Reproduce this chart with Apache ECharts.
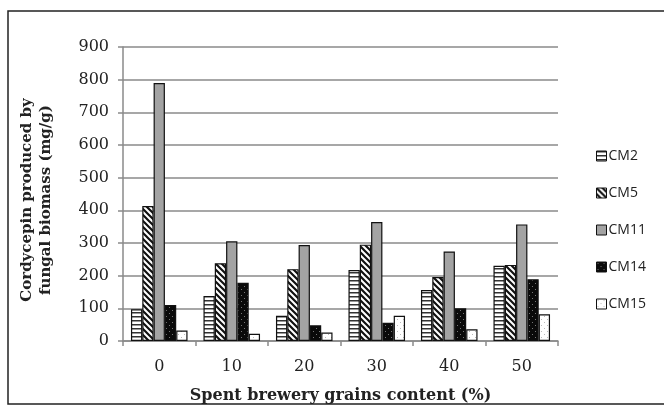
<!DOCTYPE html>
<html>
<head>
<meta charset="utf-8">
<script src="https://cdn.jsdelivr.net/npm/echarts@6/dist/echarts.min.js"></script>
<style>
  html, body { margin: 0; padding: 0; background: #fff; }
  #main { width: 664px; height: 408px; }
</style>
</head>
<body>
<div id="main"></div>
<script>
var categories = ["0", "10", "20", "30", "40", "50"];
var seriesNames = ["CM2", "CM5", "CM11", "CM14", "CM15"];
var cm2 = [97, 138, 77, 217, 156, 230];
var cm5 = [413, 238, 220, 295, 196, 233];
var cm11 = [790, 305, 294, 364, 274, 357];
var cm14 = [110, 178, 48, 56, 100, 189];
var cm15 = [32, 22, 26, 77, 36, 82];
var yTicks = [0, 100, 200, 300, 400, 500, 600, 700, 800, 900];

// 填充图案
function makePattern(type) {
  var c = document.createElement("canvas");
  var ctx = c.getContext("2d");
  if (type === "hline") {
    c.width = 4; c.height = 4;
    ctx.fillStyle = "#fff"; ctx.fillRect(0, 0, 4, 4);
    ctx.fillStyle = "#333"; ctx.fillRect(0, 0, 4, 1.5);
  } else if (type === "diag") {
    c.width = 6; c.height = 6;
    ctx.fillStyle = "#fff"; ctx.fillRect(0, 0, 6, 6);
    ctx.strokeStyle = "#111"; ctx.lineWidth = 2.2;
    ctx.beginPath();
    ctx.moveTo(-1, -1); ctx.lineTo(7, 7);
    ctx.moveTo(-4, 2); ctx.lineTo(2, 8);
    ctx.moveTo(2, -4); ctx.lineTo(8, 2);
    ctx.stroke();
  } else if (type === "darkdot") {
    c.width = 6; c.height = 6;
    ctx.fillStyle = "#0a0a0a"; ctx.fillRect(0, 0, 6, 6);
    ctx.fillStyle = "#777"; ctx.fillRect(1, 1, 1, 1); ctx.fillRect(4, 4, 1, 1);
  } else {
    c.width = 6; c.height = 6;
    ctx.fillStyle = "#fff"; ctx.fillRect(0, 0, 6, 6);
    ctx.fillStyle = "#bbb"; ctx.fillRect(1, 1, 1, 1); ctx.fillRect(4, 4, 1, 1);
  }
  return { image: c, repeat: "repeat" };
}

var fills = [makePattern("hline"), makePattern("diag"), "#a3a3a3", makePattern("darkdot"), makePattern("lightdot")];
var dataList = [cm2, cm5, cm11, cm14, cm15];

var myChart = echarts.init(document.getElementById("main"));
var series = seriesNames.map(function (name, i) {
  return {
    name: name,
    type: "bar",
    barGap: "0%",
    barCategoryGap: "22%",
    data: dataList[i],
    itemStyle: {
      color: fills[i],
      borderColor: "#111",
      borderWidth: 1.2
    }
  };
});

var option = {
  animation: false,
  grid: { left: 123, right: 106, top: 47, bottom: 67, outerBoundsMode: "none" },
  legend: {
    orient: "vertical",
    left: 591,
    top: 144,
    itemWidth: 10,
    itemHeight: 10,
    itemGap: 23,
    icon: "rect",
    itemStyle: { borderColor: "#111", borderWidth: 1 },
    textStyle: { fontFamily: "Open Sans", fontSize: 14, color: "#222", padding: [0, 0, 0, -3] },
    data: seriesNames
  },
  xAxis: {
    type: "category",
    data: categories,
    name: "Spent brewery grains content (%)",
    nameLocation: "middle",
    nameGap: 47,
    nameTextStyle: { fontFamily: "DejaVu Serif", fontWeight: "bold", fontSize: 16, color: "#222" },
    axisLine: { lineStyle: { color: "#8a8a8a", width: 1.5 } },
    axisTick: { show: true, length: 5, lineStyle: { color: "#8a8a8a", width: 1.5 } },
    axisLabel: { fontFamily: "DejaVu Serif", fontSize: 16, color: "#222", margin: 18 }
  },
  yAxis: {
    type: "value",
    min: yTicks[0],
    max: yTicks[yTicks.length - 1],
    interval: 100,
    name: "Cordycepin produced by\nfungal biomass (mg/g)",
    nameLocation: "middle",
    nameGap: 67,
    nameTextStyle: { fontFamily: "DejaVu Serif", fontWeight: "bold", fontSize: 15, color: "#222", lineHeight: 19, padding: [0, 12, 0, 0] },
    axisLine: { show: true, lineStyle: { color: "#8a8a8a", width: 1.5 } },
    axisTick: { show: true, length: 5, lineStyle: { color: "#8a8a8a", width: 1.5 } },
    axisLabel: { fontFamily: "DejaVu Serif", fontSize: 16, color: "#222", margin: 14 },
    splitLine: { lineStyle: { color: "#8a8a8a", width: 1.5 } }
  },
  graphic: [{
    type: "rect",
    shape: { x: 8, y: 11, width: 670, height: 393 },
    style: { fill: "none", stroke: "#222", lineWidth: 1.5 }
  }],
  series: series
};
myChart.setOption(option);
</script>
</body>
</html>
